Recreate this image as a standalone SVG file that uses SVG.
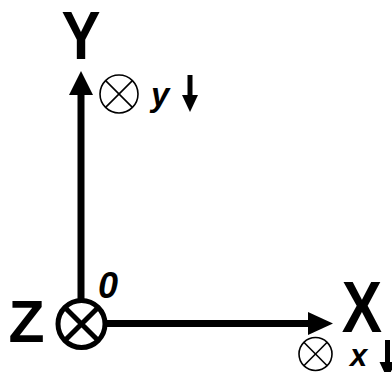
<svg xmlns="http://www.w3.org/2000/svg" width="392" height="372" viewBox="0 0 392 372">
<style>
.axis{stroke:#000;stroke-width:7;fill:none}
.big{font-family:"Liberation Sans",Arial,sans-serif;font-weight:bold;fill:#000}
.it{font-family:"Liberation Sans",Arial,sans-serif;font-weight:bold;font-style:italic;fill:#000}
.thin{stroke:#000;stroke-width:1.6;fill:none}
.thick{stroke:#000;stroke-width:5;fill:none}
</style>
<rect width="392" height="372" fill="#fff"/>
<g id="connectors">
<line class="axis" x1="81" y1="300" x2="81" y2="94"/>
<polygon points="81,71 69,95 93,95" fill="#000"/>
<line class="axis" x1="105" y1="323.5" x2="309" y2="323.5"/>
<polygon points="333,323.5 308,312 308,335" fill="#000"/>
</g>
<g id="origin">
<circle class="thick" cx="81.5" cy="324" r="23.5"/>
<line class="thick" x1="64.9" y1="307.4" x2="98.1" y2="340.6"/>
<line class="thick" x1="98.1" y1="307.4" x2="64.9" y2="340.6"/>
<text class="it" x="98" y="298" font-size="36">0</text>
</g>
<g id="label-z">
<text class="big" x="26.5" y="342" font-size="59" text-anchor="middle">Z</text>
</g>
<g id="label-y">
<text class="big" transform="translate(81,59) scale(0.86,1)" x="0" y="0" font-size="68" text-anchor="middle">Y</text>
</g>
<g id="label-x">
<text class="big" transform="translate(362,332) scale(0.84,1)" x="0" y="0" font-size="72" text-anchor="middle">X</text>
</g>
<g id="y-dir">
<circle class="thin" cx="119" cy="94" r="19"/>
<line class="thin" x1="105.6" y1="80.6" x2="132.4" y2="107.4"/>
<line class="thin" x1="132.4" y1="80.6" x2="105.6" y2="107.4"/>
<text class="it" x="151" y="106" font-size="33">y</text>
<line x1="190" y1="75" x2="190" y2="96" stroke="#000" stroke-width="5"/>
<polygon points="182,95 198,95 190,112" fill="#000"/>
</g>
<g id="x-dir">
<circle class="thin" cx="315.5" cy="354" r="16.5"/>
<line class="thin" x1="303.8" y1="342.3" x2="327.2" y2="365.7"/>
<line class="thin" x1="327.2" y1="342.3" x2="303.8" y2="365.7"/>
<text class="it" x="350" y="366" font-size="31">x</text>
<line x1="387.5" y1="340" x2="387.5" y2="363" stroke="#000" stroke-width="5"/>
<polygon points="379.5,362 395.5,362 387.5,379" fill="#000"/>
</g>
</svg>
